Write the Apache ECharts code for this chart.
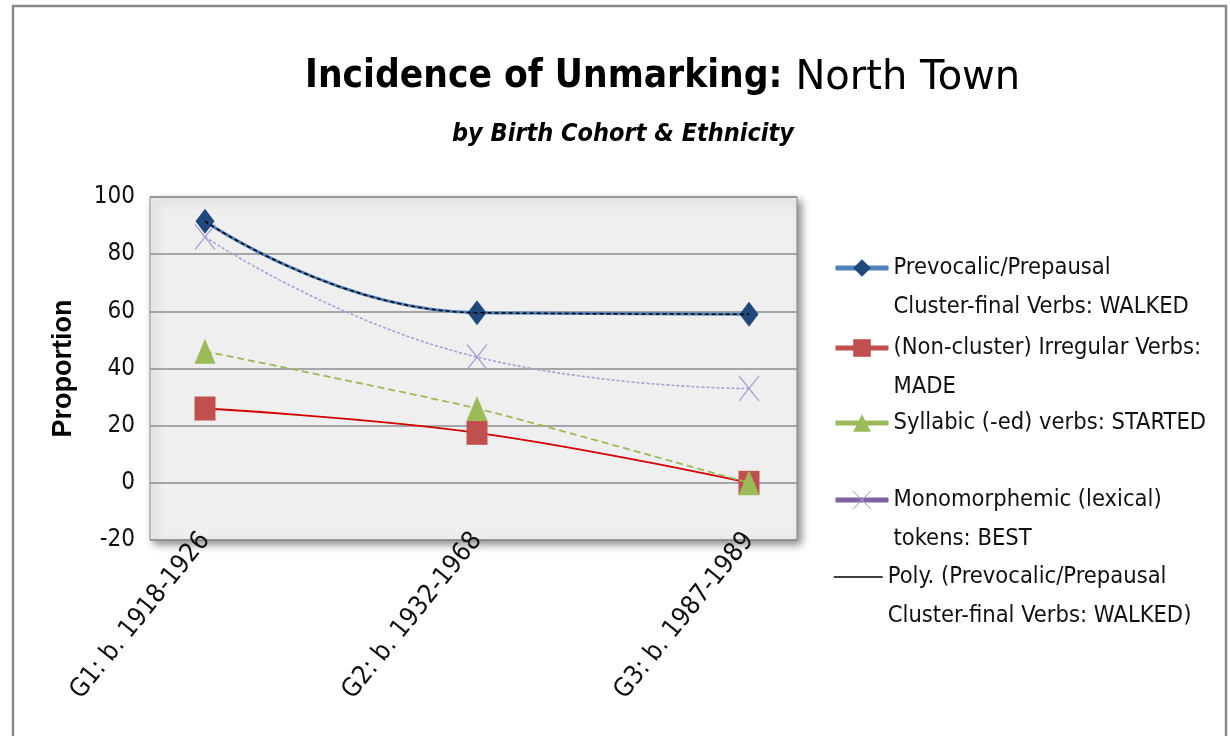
<!DOCTYPE html>
<html>
<head>
<meta charset="utf-8">
<script src="https://cdn.jsdelivr.net/npm/echarts@6/dist/echarts.min.js"></script>
<style>
  html, body { margin: 0; padding: 0; background: #fff; }
  #chart { width: 1230px; height: 736px; }
</style>
</head>
<body>
<div id="chart"></div>
<script>
// data
var cohorts = ['G1: b. 1918-1926', 'G2: b. 1932-1968', 'G3: b. 1987-1989'];
var walked = [91.5, 59.5, 59];    // Prevocalic/Prepausal cluster-final verbs
var made = [26, 17.5, 0];         // (Non-cluster) irregular verbs
var started = [46, 26, 0];        // Syllabic (-ed) verbs
var best = [86, 44, 33];          // Monomorphemic tokens
var yTicks = [-20, 0, 20, 40, 60, 80, 100];

var names = [
  'Prevocalic/Prepausal Cluster-final Verbs: WALKED',
  '(Non-cluster) Irregular Verbs: MADE',
  'Syllabic (-ed) verbs: STARTED',
  'Monomorphemic (lexical) tokens: BEST',
  'Poly. (Prevocalic/Prepausal Cluster-final Verbs: WALKED)'
];
// leading blank line keeps the icon level with the first text line
var legendText = [
  '\nPrevocalic/Prepausal\nCluster-final Verbs: WALKED',
  '\n(Non-cluster) Irregular Verbs:\nMADE',
  'Syllabic (-ed) verbs: STARTED',
  '\nMonomorphemic (lexical)\ntokens: BEST',
  '\nPoly. (Prevocalic/Prepausal\nCluster-final Verbs: WALKED)'
];

var FONT = '"DejaVu Sans Condensed", "Liberation Sans Narrow", sans-serif';
var crossPath = 'path://M0,0L10,12M10,0L0,12';

var chart = echarts.init(document.getElementById('chart'));

function legendFor(i, top, extra) {
  var lg = {
    data: [names[i]],
    left: 833,
    top: top,
    padding: 0,
    itemWidth: 53,
    itemHeight: 22,
    itemGap: 0,
    selectedMode: false,
    formatter: function () { return legendText[i]; },
    textStyle: {
      fontFamily: FONT,
      fontSize: 23.5,
      lineHeight: 39,
      color: '#111'
    }
  };
  return Object.assign(lg, extra);
}

var option = {
  backgroundColor: '#fff',
  animation: false,
  title: [{
    text: '{b|Incidence of Unmarking:} {n|North Town}',
    left: 300,
    top: 50,
    textStyle: {
      rich: {
        b: { fontFamily: FONT, fontWeight: 'bold', fontSize: 38.5, color: '#000' },
        n: { fontFamily: '"DejaVu Sans", sans-serif', fontWeight: 'normal', fontSize: 40, color: '#000', padding: [4, 0, 0, 8] }
      }
    }
  }, {
    text: 'by Birth Cohort & Ethnicity',
    left: 447,
    top: 117,
    textStyle: {
      fontFamily: FONT, fontWeight: 'bold', fontStyle: 'italic', fontSize: 25, color: '#000'
    }
  }],
  graphic: [{
    type: 'rect',
    shape: { x: 13, y: 6, width: 1213, height: 740 },
    style: { fill: 'none', stroke: '#8a8a8a', lineWidth: 2.5 },
    silent: true
  }],
  legend: [
    legendFor(0, 209.5, {
      lineStyle: { color: '#4F81BD', width: 5 },
      itemStyle: { color: '#1F497D' }
    }),
    legendFor(1, 289.5, {
      lineStyle: { color: '#C0504D', width: 5 },
      itemStyle: { color: '#C0504D' }
    }),
    legendFor(2, 403.5, {
      lineStyle: { color: '#9BBB59', width: 5, type: 'solid' },
      itemStyle: { color: '#9BBB59' }
    }),
    legendFor(3, 441.5, {
      lineStyle: { color: '#8064A2', width: 5, type: 'solid' },
      itemStyle: { color: 'none', borderColor: '#a898d2', borderWidth: 1 }
    }),
    legendFor(4, 518.5, {
      itemWidth: 49,
      lineStyle: { color: '#000', width: 1.5, type: 'solid' },
      itemStyle: { color: 'rgba(0,0,0,0)', borderWidth: 0 }
    })
  ],
  grid: [{
    left: 150, top: 197, width: 647, height: 343,
    show: true,
    backgroundColor: '#efefef',
    borderColor: '#8a8a8a',
    borderWidth: 1,
    shadowColor: 'rgba(0,0,0,0.45)',
    shadowBlur: 8,
    shadowOffsetX: 4,
    shadowOffsetY: 4
  }, {
    left: 205, top: 197, width: 544, height: 343
  }],
  xAxis: [{
    gridIndex: 0,
    type: 'value',
    show: false
  }, {
    gridIndex: 1,
    type: 'category',
    data: cohorts,
    boundaryGap: false,
    axisLine: { show: false },
    axisTick: { show: false },
    splitLine: { show: false },
    axisLabel: {
      rotate: 51,
      margin: -4,
      interval: 0,
      fontFamily: FONT,
      fontSize: 26,
      color: '#111'
    }
  }],
  yAxis: [{
    gridIndex: 0,
    type: 'value',
    min: yTicks[0],
    max: yTicks[yTicks.length - 1],
    interval: 20,
    name: 'Proportion',
    nameLocation: 'middle',
    nameGap: 73,
    nameTextStyle: {
      fontFamily: '"Liberation Sans", sans-serif',
      fontWeight: 'bold',
      fontSize: 27,
      color: '#000'
    },
    axisLine: { show: false },
    axisTick: { show: false },
    axisLabel: {
      margin: 15,
      fontFamily: FONT,
      fontSize: 24,
      color: '#111'
    },
    splitLine: { lineStyle: { color: '#8c8c8c', width: 1.5 } }
  }, {
    gridIndex: 1,
    type: 'value',
    min: yTicks[0],
    max: yTicks[yTicks.length - 1],
    show: false
  }],
  series: [{
    name: names[0],
    type: 'line',
    xAxisIndex: 1, yAxisIndex: 1,
    data: walked,
    smooth: 0.5,
    symbol: 'diamond',
    symbolSize: [19, 25],
    itemStyle: { color: '#1F497D' },
    lineStyle: { color: '#4F81BD', width: 3 },
    z: 4
  }, {
    name: names[1],
    type: 'line',
    xAxisIndex: 1, yAxisIndex: 1,
    data: made,
    smooth: 0.4,
    symbol: 'rect',
    symbolSize: [21, 24],
    itemStyle: { color: '#C0504D' },
    lineStyle: { color: '#d40000', width: 1.8 },
    z: 2
  }, {
    name: names[2],
    type: 'line',
    xAxisIndex: 1, yAxisIndex: 1,
    data: started,
    smooth: 0.2,
    symbol: 'triangle',
    symbolSize: [21, 25],
    itemStyle: { color: '#9BBB59' },
    lineStyle: { color: '#9BBB59', width: 1.8, type: [7, 4] },
    z: 3
  }, {
    name: names[3],
    type: 'line',
    xAxisIndex: 1, yAxisIndex: 1,
    data: best,
    smooth: 0.5,
    symbol: crossPath,
    symbolSize: [20, 25],
    itemStyle: { color: 'none', borderColor: '#a898d2', borderWidth: 1.2 },
    lineStyle: { color: '#aa9dd4', width: 1.6, type: [3, 2] },
    z: 2
  }, {
    name: names[4],
    type: 'line',
    xAxisIndex: 1, yAxisIndex: 1,
    data: walked,
    smooth: 0.5,
    showSymbol: false,
    symbol: 'none',
    lineStyle: { color: '#000', width: 1.5, type: [4, 3] },
    z: 5
  }]
};

chart.setOption(option);
</script>
</body>
</html>
